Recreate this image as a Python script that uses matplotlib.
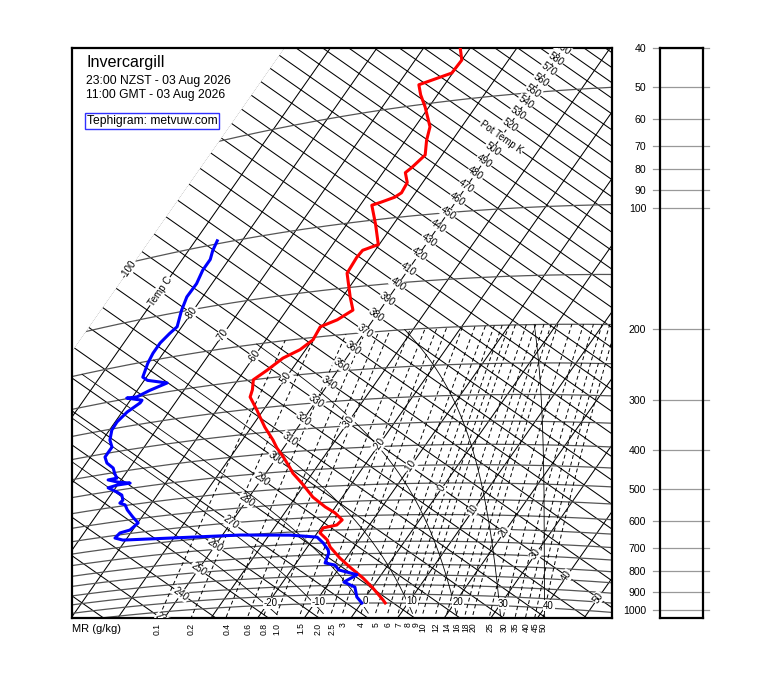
import numpy as np
import matplotlib
matplotlib.use("Agg")
import matplotlib.pyplot as plt
from matplotlib.transforms import blended_transform_factory

plt.rcParams['font.family'] = ['Liberation Sans', 'DejaVu Sans']

# ---------------- sounding data ----------------
temp_p = [36, 39, 42, 44, 47, 51, 58, 63, 69, 74, 76, 81, 86, 88, 90, 91, 103, 117, 120,
          125, 137, 159, 173, 182, 188, 203, 214, 223, 238, 250, 266, 278, 303, 317, 339,
          369, 388, 411, 441, 456, 486, 531, 565, 587, 613, 631, 640, 659, 688, 718, 767,
          810, 865, 917, 983, 1000]
temp_c = [-62.2, -60.0, -60.2, -65.5, -63.6, -60.8, -56.8, -55.5, -53.6, -54.6, -55.2, -53.3,
          -53.0, -53.8, -56.1, -57.5, -53.8, -50.2, -52.7, -52.9, -52.6, -48.4, -45.8, -47.7,
          -50.3, -49.9, -51.2, -53.6, -55.2, -56.7, -55.4, -54.8, -51.4, -49.7, -47.1, -43.4,
          -41.4, -38.7, -35.6, -34.2, -30.8, -26.3, -22.2, -19.2, -16.6, -17.0, -19.5, -19.4,
          -16.8, -15.1, -11.4, -7.9, -3.4, 0.2, 4.2, 5.1]
dew_p = [98, 104, 110, 117, 127, 137, 149, 165, 171, 180, 191, 203, 221, 227, 236, 243, 250,
         249, 257, 261, 273, 288, 302, 322, 338, 358, 373, 388, 402, 416, 417, 427, 435, 435,
         439, 455, 466, 482, 490, 498, 515, 542, 565, 587, 593, 610, 622, 636, 649, 662, 675,
         700, 730, 744, 788, 799, 823, 848, 884, 911, 965, 1000]
dew_c = [-85.3, -84.8, -84.0, -84.0, -83.3, -83.4, -82.5, -81.0, -81.6, -82.2, -82.2, -81.8,
         -80.8, -79.3, -74.7, -77.3, -79.1, -81.1, -77.5, -77.5, -78.9, -79.6, -79.5, -78.4,
         -76.9, -76.9, -75.6, -73.5, -72.4, -71.2, -72.8, -70.4, -67.6, -70.1, -71.6, -69.1,
         -67.6, -66.6, -66.8, -65.4, -64.2, -61.9, -59.9, -60.6, -62.3, -62.6, -60.6, -50.8,
         -36.2, -25.5, -19.4, -17.2, -15.1, -14.5, -13.8, -11.4, -9.8, -5.2, -6.9, -3.8,
         -1.9, 0.1]

isotherms = list(range(-100, 61, 10))
isentropes = list(range(200, 701, 10))
isobars = [1000, 950, 900, 850, 800, 750, 700, 650, 600, 550, 500, 450, 400, 350, 300,
           250, 200, 150, 100, 50]
mixing_ratios = [0.1, 0.2, 0.4, 0.6, 0.8, 1.0, 1.5, 2.0, 2.5, 3, 4, 5, 6, 7, 8, 9, 10, 12,
                 14, 16, 18, 20, 25, 30, 35, 40, 45, 50]
mr_labels = ['0.1', '0.2', '0.4', '0.6', '0.8', '1.0', '1.5', '2.0', '2.5', '3', '4', '5',
             '6', '7', '8', '9', '10', '12', '14', '16', '18', '20', '25', '30', '35', '40',
             '45', '50']
wet_adiabats = [-20, -10, 0, 10, 20, 30, 40]
theta_labels = list(range(230, 600, 10))
temp_labels = [-100, -90, -80, -70, -60, -50, -30, -20, -10, 0, 10, 20, 30, 40, 50]
panel_ticks = [40, 50, 60, 70, 80, 90, 100, 200, 300, 400, 500, 600, 700, 800, 900, 1000]

# ---------------- tephigram geometry ----------------
KAPPA = 0.2857
ang = np.deg2rad(35.0)
ca, sa = np.cos(ang), np.sin(ang)
KT, KTH = 3.82, 740.0


def tephi(T, p=None, theta=None):
    T = np.asarray(T, float)
    if theta is None:
        theta = (T + 273.15) * (1000.0 / np.asarray(p, float)) ** KAPPA
    u = KT * T
    v = KTH * np.log(np.asarray(theta, float) / 300.0)
    return u * ca + v * sa, v * ca - u * sa


def esat(tc):
    return 6.112 * np.exp(17.67 * tc / (tc + 243.5))


def dew_from_mr(w, p):
    e = p * w / (622.0 + w)
    lg = np.log(e / 6.112)
    return 243.5 * lg / (17.67 - lg)


def moist_profile(thw, p_end, n=300):
    Rd, cp, Lv, eps = 287.04, 1005.7, 2.501e6, 0.622
    def f(p, T):
        e = esat(T - 273.15)
        rs = eps * e / (p - e)
        return ((Rd * T + Lv * rs) / p) / (cp + Lv * Lv * rs * eps / (Rd * T * T))
    ps = np.linspace(1000.0, p_end, n)
    Ts = [thw + 273.15]
    for i in range(n - 1):
        p0, h = ps[i], ps[i + 1] - ps[i]
        T0 = Ts[-1]
        k1 = f(p0, T0); k2 = f(p0 + h / 2, T0 + h * k1 / 2)
        k3 = f(p0 + h / 2, T0 + h * k2 / 2); k4 = f(p0 + h, T0 + h * k3)
        Ts.append(T0 + h * (k1 + 2 * k2 + 2 * k3 + k4) / 6)
    return ps, np.array(Ts) - 273.15


# ---------------- figure ----------------
W, H = 760, 690
fig = plt.figure(figsize=(W / 100, H / 100), dpi=100)
fig.patch.set_facecolor('white')
X0, Y0 = 401.2, 546.2
L, R, Tp, B = 72, 612, 48, 618
ax = fig.add_axes([L / W, 1 - B / H, (R - L) / W, (B - Tp) / H])
ax.set_xlim(L - X0, R - X0)
ax.set_ylim(Y0 - B, Y0 - Tp)
ax.set_xticks([]); ax.set_yticks([])
for s in ax.spines.values():
    s.set_linewidth(1.6)

GRID = dict(color='black', lw=0.75, zorder=1)
th_range = np.linspace(180, 800, 200)
for T in isotherms:
    x, y = tephi(np.full_like(th_range, T), theta=th_range)
    ax.plot(x, y, **GRID)
T_range = np.linspace(-100, 70, 200)
for th in isentropes:
    x, y = tephi(T_range, theta=np.full_like(T_range, th))
    ax.plot(x, y, **GRID)
for p in isobars:
    x, y = tephi(T_range, p=np.full_like(T_range, p))
    ax.plot(x, y, color='#555555', lw=0.9, zorder=1)

p_mr = np.linspace(1060, 200, 100)
for w in mixing_ratios:
    x, y = tephi(dew_from_mr(w, p_mr), p=p_mr)
    ax.plot(x, y, color='black', lw=0.7, ls=(0, (4, 3)), zorder=1)

for thw in wet_adiabats:
    ps, Ts = moist_profile(thw, 200.0)
    x, y = tephi(Ts, p=ps)
    ax.plot(x, y, color='black', lw=0.6, zorder=1)
    ps2, Ts2 = moist_profile(thw, 1060.0, n=20)
    x, y = tephi(Ts2, p=ps2)
    ax.plot(x, y, color='black', lw=0.6, zorder=1)

LAB = dict(fontsize=7, ha='center', va='center', zorder=3, clip_on=True,
           bbox=dict(fc='white', ec='none', pad=0.4))
for th in theta_labels:
    x, y = tephi(-40.0, theta=th)
    ax.text(x, y, 'Pot Temp K' if th == 510 else str(th), rotation=-35, **LAB)
for T in temp_labels:
    x, y = tephi(T, theta=330.0)
    ax.text(x, y, 'Temp C' if T == -90 else str(T), rotation=55, **LAB)
for thw in wet_adiabats:
    x, y = tephi(thw, p=1000.0)
    ax.text(x + 4, y + 2, str(thw), **LAB)

trans = blended_transform_factory(ax.transData, ax.transAxes)
for w, lab in zip(mixing_ratios, mr_labels):
    x, _ = tephi(dew_from_mr(w, 1050.0), p=1050.0)
    ax.text(x, -0.008, lab, rotation=90, ha='center', va='top', fontsize=6.2,
            transform=trans, clip_on=False)
ax.text(0.0, -0.02, 'MR (g/kg)', ha='left', va='center', fontsize=8,
        transform=ax.transAxes)

# region with T < -100 left blank
xb, yb = tephi(np.full(2, -100.0), theta=np.array([100.0, 900.0]))
ax.fill([xb[0], xb[1], xb[1] - 600, xb[0] - 600], [yb[0], yb[1], yb[1], yb[0]],
        color='white', zorder=2)

x, y = tephi(temp_c, p=temp_p)
ax.plot(x, y, color='#ff0000', lw=2.2, zorder=5, solid_joinstyle='round')
x, y = tephi(dew_c, p=dew_p)
ax.plot(x, y, color='#0000ff', lw=2.2, zorder=5, solid_joinstyle='round')

ax.text(14 / 540, 1 - 15 / 570, 'Invercargill', fontsize=11.6, ha='left', va='center',
        transform=ax.transAxes, zorder=6)
ax.text(14 / 540, 1 - 33 / 570, '23:00 NZST - 03 Aug 2026', fontsize=8.7, ha='left',
        va='center', transform=ax.transAxes, zorder=6)
ax.text(14 / 540, 1 - 47 / 570, '11:00 GMT - 03 Aug 2026', fontsize=8.7, ha='left',
        va='center', transform=ax.transAxes, zorder=6)
ax.text(15 / 540, 1 - 73 / 570, 'Tephigram: metvuw.com', fontsize=8.7, ha='left',
        va='center', transform=ax.transAxes, zorder=6,
        bbox=dict(boxstyle='square,pad=0.15', fc='white', ec='#3030ff', lw=1.0))

# ---------------- pressure panel ----------------
ax2 = fig.add_axes([660 / W, 1 - B / H, 43 / W, (B - Tp) / H])
ax2.set_yscale('log')
ax2.set_ylim(1045, 40)
ax2.set_xlim(0, 1)
ax2.set_xticks([])
ax2.set_yticks(panel_ticks)
ax2.set_yticklabels([str(t) for t in panel_ticks], fontsize=7.6)
ax2.yaxis.set_minor_locator(matplotlib.ticker.NullLocator())
ax2.tick_params(axis='y', length=0, pad=10)
for s in ax2.spines.values():
    s.set_linewidth(1.6)
for t in panel_ticks:
    ax2.plot([-0.17, 1.14], [t, t], color='#999999', lw=0.9, clip_on=False, zorder=0,
             transform=blended_transform_factory(ax2.transAxes, ax2.transData))

fig.savefig('out.png', dpi=100, facecolor='white')
